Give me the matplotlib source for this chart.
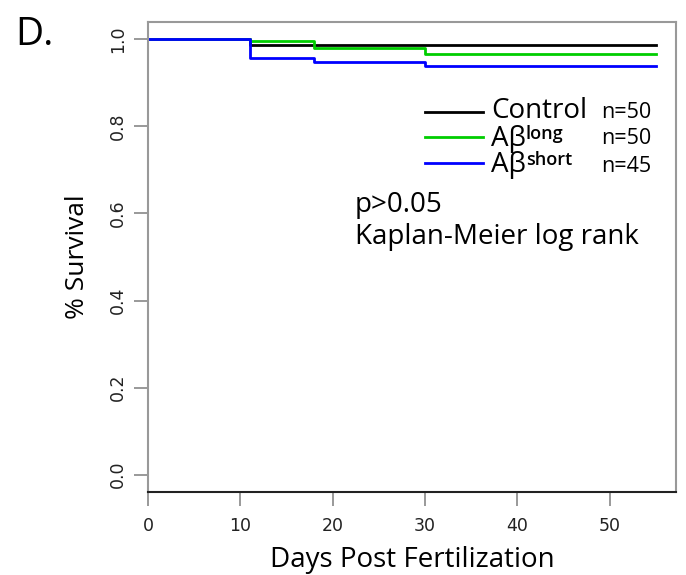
import matplotlib
matplotlib.use('Agg')
import matplotlib.pyplot as plt

# Kaplan-Meier step data
days_control = [0, 11, 55]
surv_control = [1.0, 0.988, 0.988]

days_long = [0, 11, 18, 30, 55]
surv_long = [1.0, 0.996, 0.98, 0.966, 0.966]

days_short = [0, 11, 18, 30, 55]
surv_short = [1.0, 0.958, 0.947, 0.940, 0.940]

x_ticks = [0, 10, 20, 30, 40, 50]
y_ticks = [0.0, 0.2, 0.4, 0.6, 0.8, 1.0]

label_font = 'Open Sans'

fig = plt.figure(figsize=(6.86, 5.75), dpi=100)
ax = fig.add_axes([148 / 686, 1 - 492 / 575, 528 / 686, 470 / 575])

ax.step(days_control, surv_control, where='post', color='black', lw=2)
ax.step(days_long, surv_long, where='post', color='#00cd00', lw=2)
ax.step(days_short, surv_short, where='post', color='#0000ff', lw=2)

ax.set_xlim(0, 57.2)
ax.set_ylim(-0.04, 1.04)

for side in ['top', 'right', 'left']:
    ax.spines[side].set_color('#999999')
    ax.spines[side].set_linewidth(1.5)
ax.spines['bottom'].set_color('#222222')
ax.spines['bottom'].set_linewidth(1.5)

ax.set_xticks(x_ticks)
ax.set_yticks(y_ticks)
ax.set_yticklabels([f'{v:.1f}' for v in y_ticks], rotation=90, va='center')
ax.tick_params(axis='both', length=10, width=1.2, color='#888888',
               labelsize=12.5, labelcolor='#222222')
ax.tick_params(axis='x', pad=8)
ax.tick_params(axis='y', pad=5)

ax.set_xlabel('Days Post Fertilization', fontsize=20, family=label_font, labelpad=8)
ax.set_ylabel('% Survival', fontsize=19, family=label_font, labelpad=14)

# panel letter
fig.text(15 / 686, 1 - 45 / 575, 'D.', fontsize=28, family=label_font, ha='left', va='baseline')

# legend drawn by hand in figure pixel coordinates
def fx(px):
    return px / 686

def fy(py):
    return 1 - py / 575

legend_rows = [('black', 112, 118, None, 118),
               ('#00cd00', 137, 146, 'long', 144),
               ('#0000ff', 163, 172, 'short', 172)]
names = ['Control', 'A\u03b2', 'A\u03b2']
counts = ['n=50', 'n=50', 'n=45']
renderer = fig.canvas.get_renderer()
for (col, ly, ty, sup, ny), name, cnt in zip(legend_rows, names, counts):
    fig.add_artist(plt.Line2D([fx(425), fx(483)], [fy(ly), fy(ly)], color=col, lw=2))
    t = fig.text(fx(491), fy(ty), name, fontsize=20, family=label_font, va='baseline')
    if sup:
        # superscript sits right after the A-beta, baseline a few px higher
        x_end = t.get_window_extent(renderer).x1
        fig.text(fx(x_end), fy(ty - 7), sup, fontsize=13, family=label_font,
                 weight='semibold', va='baseline', ha='left')
    fig.text(fx(601), fy(ny), cnt, fontsize=15.5, family=label_font, va='baseline')

fig.text(fx(355), fy(212), 'p>0.05', fontsize=20, family=label_font, va='baseline')
fig.text(fx(355), fy(244), 'Kaplan-Meier log rank', fontsize=20, family=label_font, va='baseline')

fig.savefig('out.png', dpi=100)
